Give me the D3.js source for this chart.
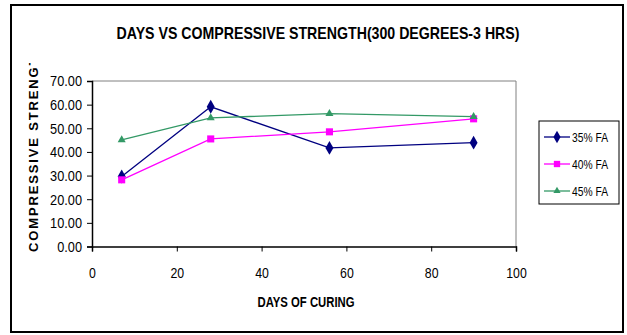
<!DOCTYPE html>
<html><head><meta charset="utf-8">
<script src="https://cdn.jsdelivr.net/npm/d3@7"></script>
<style>body{margin:0;background:#fff}svg{display:block}text{font-family:"Liberation Sans",Arial,sans-serif}</style>
</head><body><svg id="c" width="627" height="335"></svg>
<script>
const days = [7, 28, 56, 90];
const fa35 = [29.6, 59.1, 41.7, 43.9];
const fa40 = [28.2, 45.5, 48.5, 54.0];
const fa45 = [45.1, 54.4, 56.2, 54.9];
const seriesNames = ["35% FA", "40% FA", "45% FA"];
const xTicks = [0, 20, 40, 60, 80, 100];
const yTicks = [0, 10, 20, 30, 40, 50, 60, 70];

function squeeze(sel, ratio){
  sel.each(function(){
    const l = this.getComputedTextLength();
    d3.select(this).attr("textLength", l*ratio).attr("lengthAdjust","spacingAndGlyphs");
  });
}

const svg = d3.select("#c");
svg.append("rect").attr("x",11).attr("y",5).attr("width",612).attr("height",327)
  .attr("fill","#fff").attr("stroke","#000").attr("stroke-width",2);

const x = d3.scaleLinear().domain([0,100]).range([92,516]);
const y = d3.scaleLinear().domain([0,70]).range([246.5,81]);

svg.append("path").attr("d",`M${x(0)},${y(70)}H${x(100)}V${y(0)}`).attr("fill","none").attr("stroke","#808080").attr("stroke-width",1);

const gx = svg.append("g").attr("transform",`translate(0,${y(0)})`)
  .call(d3.axisBottom(x).tickValues(xTicks).tickSize(5).tickPadding(16).tickFormat(d3.format("d")));
const gy = svg.append("g").attr("transform",`translate(${x(0)},0)`)
  .call(d3.axisLeft(y).tickValues(yTicks).tickSize(5).tickPadding(5).tickFormat(d3.format(".2f")));
[gx,gy].forEach(g=>{
  g.select(".domain").attr("stroke","#000").attr("stroke-width",1.5);
  g.selectAll(".tick line").attr("stroke","#000");
  g.selectAll(".tick text").attr("fill","#000").style("font-size","15px").style("font-family","'Liberation Sans',Arial,sans-serif");
});
squeeze(gy.selectAll(".tick text"), 0.85);
squeeze(gx.selectAll(".tick text"), 0.82);

const title = svg.append("text").attr("x",318).attr("y",39).attr("text-anchor","middle")
  .style("font-size","17px").style("font-weight","bold").text("DAYS VS COMPRESSIVE STRENGTH(300 DEGREES-3 HRS)");
title.attr("textLength",403).attr("lengthAdjust","spacingAndGlyphs");
svg.append("text").attr("x",306).attr("y",307).attr("text-anchor","middle")
  .style("font-size","14px").style("font-weight","bold").text("DAYS OF CURING")
  .attr("textLength",97).attr("lengthAdjust","spacingAndGlyphs");

svg.append("clipPath").attr("id","yc").append("rect").attr("x",15).attr("y",63).attr("width",40).attr("height",210);
svg.append("g").attr("clip-path","url(#yc)").append("text")
  .attr("transform","translate(38,252) rotate(-90)")
  .style("font-size","13px").style("font-weight","bold").style("letter-spacing","1.85px")
  .text("COMPRESSIVE STRENGTH");

const colors = ["#000080","#FF00FF","#339966"];
const shapes = [d3.symbolDiamond, d3.symbolSquare, d3.symbolTriangle];
const sizes = [55, 50, 28];
const data = [fa35, fa40, fa45];
const line = d3.line().x((d,i)=>x(days[i])).y(d=>y(d));
data.forEach((s,k)=>{
  svg.append("path").datum(s).attr("d",line).attr("fill","none").attr("stroke",colors[k]).attr("stroke-width",1.3);
});
data.forEach((s,k)=>{
  svg.selectAll(null).data(s).enter().append("path")
    .attr("d",d3.symbol().type(shapes[k]).size(sizes[k]))
    .attr("transform",(d,i)=>`translate(${x(days[i])},${y(d)})`)
    .attr("fill",colors[k]);
});

svg.append("rect").attr("x",539).attr("y",121).attr("width",80).attr("height",83).attr("fill","#fff").attr("stroke","#000").attr("stroke-width",1);
const ly = [137,164,191];
seriesNames.forEach((n,k)=>{
  svg.append("line").attr("x1",544).attr("x2",570).attr("y1",ly[k]).attr("y2",ly[k]).attr("stroke",colors[k]).attr("stroke-width",1.3);
  svg.append("path").attr("d",d3.symbol().type(shapes[k]).size(sizes[k]*0.8)).attr("transform",`translate(557,${ly[k]})`).attr("fill",colors[k]);
  svg.append("text").attr("x",572).attr("y",ly[k]+5).style("font-size","13.5px").text(n)
    .attr("textLength",36).attr("lengthAdjust","spacingAndGlyphs");
});
</script></body></html>
